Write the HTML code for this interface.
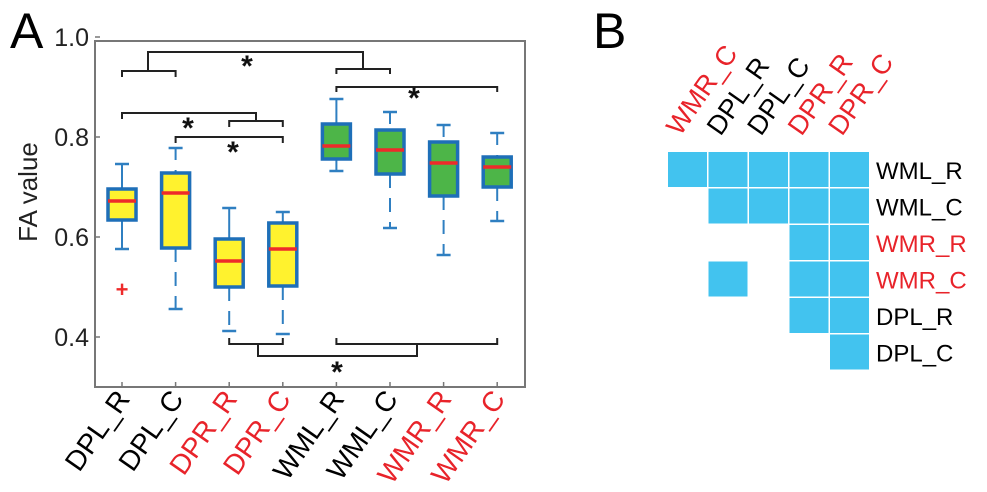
<!DOCTYPE html>
<html><head><meta charset="utf-8"><style>
html,body{margin:0;padding:0;background:#fff;}
svg{display:block;font-family:"Liberation Sans",sans-serif;}
</style></head><body>
<svg id="c" width="987" height="492" viewBox="0 0 987 492">
<text x="10" y="48" font-size="50">A</text>
<text x="593" y="48" font-size="50">B</text>
<g id="plot"></g>
<g id="heat"></g>
</svg>
<script>
const categories=["DPL_R","DPL_C","DPR_R","DPR_C","WML_R","WML_C","WMR_R","WMR_C"];
const catColors=["#000","#000","#e8232a","#e8232a","#000","#000","#e8232a","#e8232a"];
const whiskerHigh=[0.746,0.778,0.658,0.650,0.876,0.850,0.824,0.808];
const q3=[0.696,0.728,0.596,0.628,0.826,0.814,0.790,0.760];
const medians=[0.672,0.688,0.552,0.576,0.782,0.774,0.748,0.740];
const q1=[0.634,0.578,0.500,0.502,0.756,0.726,0.682,0.700];
const whiskerLow=[0.576,0.456,0.412,0.406,0.732,0.618,0.564,0.632];
const boxFill=["#fff22e","#fff22e","#fff22e","#fff22e","#4db548","#4db548","#4db548","#4db548"];
const outliers=[[0,0.494]];
const yTicks=[0.4,0.6,0.8,1.0];
const yTickLabels=["0.4","0.6","0.8","1.0"];
const heatRows=["WML_R","WML_C","WMR_R","WMR_C","DPL_R","DPL_C"];
const heatRowColors=["#000","#000","#e8232a","#e8232a","#000","#000"];
const heatCols=["WMR_C","DPL_R","DPL_C","DPR_R","DPR_C"];
const heatColColors=["#e8232a","#000","#000","#e8232a","#e8232a"];
const heatMatrix=[[1,1,1,1,1],[0,1,1,1,1],[0,0,0,1,1],[0,1,0,1,1],[0,0,0,1,1],[0,0,0,0,1]];

const NS="http://www.w3.org/2000/svg";
function mk(parent,tag,attrs){const e=document.createElementNS(NS,tag);for(const k in attrs)e.setAttribute(k,attrs[k]);parent.appendChild(e);return e;}
const L=95,R=525,T=41,B=387;
const y=v=>137-(v-0.8)*500;
const x=i=>122+i*53.6;
const P=document.getElementById('plot');
let ax=mk(P,'rect',{x:L,y:T,width:R-L,height:B-T,fill:'none',stroke:'#777','stroke-width':2});


yTicks.forEach((v,i)=>{
  let t=mk(P,'line',{x1:L,x2:L+5,y1:y(v),y2:y(v),stroke:'#777','stroke-width':1.5});
  
  
  let tx=mk(P,'text',{x:89,y:y(v)+9,'font-size':25,'text-anchor':'end',fill:'#222'});tx.textContent=yTickLabels[i];
  
  
});
let yl=mk(P,'text',{x:0,y:0,'font-size':26,'text-anchor':'middle',transform:'translate(37,192) rotate(-90)',fill:'#222'});yl.textContent='FA value';


categories.forEach((c,i)=>{
  const cx=x(i),w=14;
  let g=mk(P,'g',{});
  
  
  mk(g,'line',{x1:cx,x2:cx,y1:y(whiskerHigh[i]),y2:y(q3[i]),stroke:'#2f7fc1','stroke-width':2,'stroke-dasharray':(i==1||i>=5)?'12,10':'none'});
  mk(g,'line',{x1:cx,x2:cx,y1:y(q1[i]),y2:y(whiskerLow[i]),stroke:'#2f7fc1','stroke-width':2,'stroke-dasharray':(i>=1&&i!=4)?'14,10':'none'});
  mk(g,'line',{x1:cx-7,x2:cx+7,y1:y(whiskerHigh[i]),y2:y(whiskerHigh[i]),stroke:'#2f7fc1','stroke-width':2.5});
  mk(g,'line',{x1:cx-7,x2:cx+7,y1:y(whiskerLow[i]),y2:y(whiskerLow[i]),stroke:'#2f7fc1','stroke-width':2.5});
  mk(g,'rect',{x:cx-w,y:y(q3[i]),width:2*w,height:y(q1[i])-y(q3[i]),fill:boxFill[i],stroke:'#1e6fb8','stroke-width':3.5});
  mk(g,'line',{x1:cx-w,x2:cx+w,y1:y(medians[i]),y2:y(medians[i]),stroke:'#ee2a2a','stroke-width':3.5});
  let t=mk(P,'line',{x1:cx,x2:cx,y1:B,y2:B-5,stroke:'#777','stroke-width':1.5});
  
  
  let tx=mk(P,'text',{x:0,y:0,'font-size':28,'text-anchor':'end',fill:catColors[i],transform:`translate(${cx+9},${B+12}) rotate(-55)`});tx.textContent=c;
  
  
});
outliers.forEach(o=>{
  let t=mk(P,'text',{x:x(o[0]),y:y(o[1])+7,'font-size':22,'font-weight':'bold','text-anchor':'middle',fill:'#ee2a2a'});t.textContent='+';
  
  
});
const br=mk(P,'g',{stroke:'#222','stroke-width':2,fill:'none'});


function pl(pts){mk(br,'polyline',{points:pts.map(p=>p.join(',')).join(' ')});}
pl([[x(0),77],[x(0),71],[x(1),71],[x(1),77]]);pl([[148,71],[148,52],[363,52],[363,69]]);
pl([[x(4),74],[x(4),69],[x(5),69],[x(5),74]]);
pl([[x(4),92],[x(4),87],[x(7),87],[x(7),92]]);
pl([[x(0),119],[x(0),113],[256,113],[256,121]]);pl([[x(2),127],[x(2),121],[x(3),121],[x(3),127]]);
pl([[x(1),143],[x(1),137],[x(3),137],[x(3),143]]);
pl([[x(2),338],[x(2),344],[x(3),344],[x(3),338]]);pl([[x(4),338],[x(4),344],[x(7),344],[x(7),338]]);
pl([[258,344],[258,356],[417,356],[417,344]]);
[[247,76],[414,108],[188,138],[233,162],[337,382]].forEach(p=>{
  let s=mk(P,'text',{x:p[0],y:p[1],'font-size':30,'font-weight':'bold','text-anchor':'middle',fill:'#111'});s.textContent='*';
  
  
});
const H=document.getElementById('heat');
const hx=j=>668+j*40.5, hy=r=>152+r*36.5;
heatMatrix.forEach((row,r)=>{
  row.forEach((v,j)=>{
    if(v){let c=mk(H,'rect',{x:hx(j),y:hy(r),width:39,height:35,fill:'#42c3ef'});
    
    }
  });
  let t=mk(H,'text',{x:876,y:hy(r)+27,'font-size':24,fill:heatRowColors[r]});t.textContent=heatRows[r];
  
  
});
heatCols.forEach((c,j)=>{
  let t=mk(H,'text',{x:0,y:0,'font-size':27,fill:heatColColors[j],transform:`translate(${hx(j)+12},${137}) rotate(-55)`});t.textContent=c;
  
  
});
</script>
</body></html>
